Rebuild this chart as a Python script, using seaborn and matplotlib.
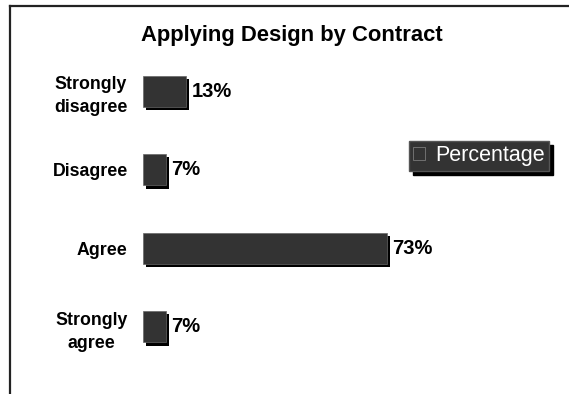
import matplotlib
matplotlib.use("Agg")
import matplotlib.pyplot as plt
import matplotlib.patheffects as pe
from matplotlib.lines import Line2D
import seaborn as sns
import pandas as pd

categories = ["Strongly\ndisagree", "Disagree", "Agree", "Strongly\nagree"]
percentages = [13, 7, 73, 7]
series_name = "Percentage"

df = pd.DataFrame({"Response": categories, series_name: percentages})

sns.set_style("white")
plt.rcParams["font.family"] = ["Liberation Sans", "DejaVu Sans"]
plt.rcParams["text.color"] = "black"
plt.rcParams["ytick.color"] = "black"

fig = plt.figure(figsize=(5.69, 3.94), dpi=100)
ax = fig.add_axes([143 / 569, 1 - 366 / 394, 334 / 569, 314 / 394])

shadow = [pe.SimplePatchShadow(offset=(2.2, -2.2), shadow_rgbFace="black", alpha=1.0), pe.Normal()]
sns.barplot(data=df, x=series_name, y="Response", orient="h", color="#333333",
            width=0.4, saturation=1, edgecolor="#666666", linewidth=0.5,
            label=series_name, ax=ax)
for bar in ax.patches:
    bar.set_path_effects(shadow)

ax.set_xlim(0, 100)
ax.set_ylim(3.5, -0.5)
ax.bar_label(ax.containers[0], labels=[f"{v}%" for v in percentages],
             padding=3.5, fontsize=14.5, fontweight="bold", color="black")

ax.set_xlabel("")
ax.set_ylabel("")
ax.set_xticks([])
ax.tick_params(axis="y", length=0, pad=11)
for lbl in ax.get_yticklabels():
    lbl.set_fontsize(12.8)
    lbl.set_fontweight("bold")
    lbl.set_color("black")
    lbl.set_multialignment("center")
    lbl.set_linespacing(1.45)
sns.despine(ax=ax, left=True, bottom=True)

leg = ax.legend(loc="upper left", bbox_to_anchor=(409 / 569, 1 - 141 / 394),
                bbox_transform=fig.transFigure, fontsize=15.5, frameon=True,
                facecolor="#333333", edgecolor="#555555", framealpha=1, fancybox=False,
                shadow={"color": "black", "alpha": 1.0, "ox": 3, "oy": -3},
                handlelength=0.55, handleheight=0.55, handletextpad=0.45,
                borderpad=0.2, borderaxespad=0)
leg.get_frame().set_boxstyle("square", pad=0)
for t in leg.get_texts():
    t.set_color("white")
for h in leg.legend_handles:
    h.set_edgecolor("#888888")
    h.set_path_effects([])

fig.text(292 / 569, 1 - 35 / 394, "Applying Design by Contract",
         ha="center", va="center", fontsize=15.8, fontweight="bold", color="black")

fig.add_artist(Line2D([10 / 569, 10 / 569], [0, 1 - 6 / 394], color="#222222", lw=1.6,
                      transform=fig.transFigure, solid_capstyle="projecting"))
fig.add_artist(Line2D([10 / 569, 1], [1 - 6 / 394, 1 - 6 / 394], color="#222222", lw=1.6,
                      transform=fig.transFigure, solid_capstyle="projecting"))

fig.savefig("out.png", dpi=100)
